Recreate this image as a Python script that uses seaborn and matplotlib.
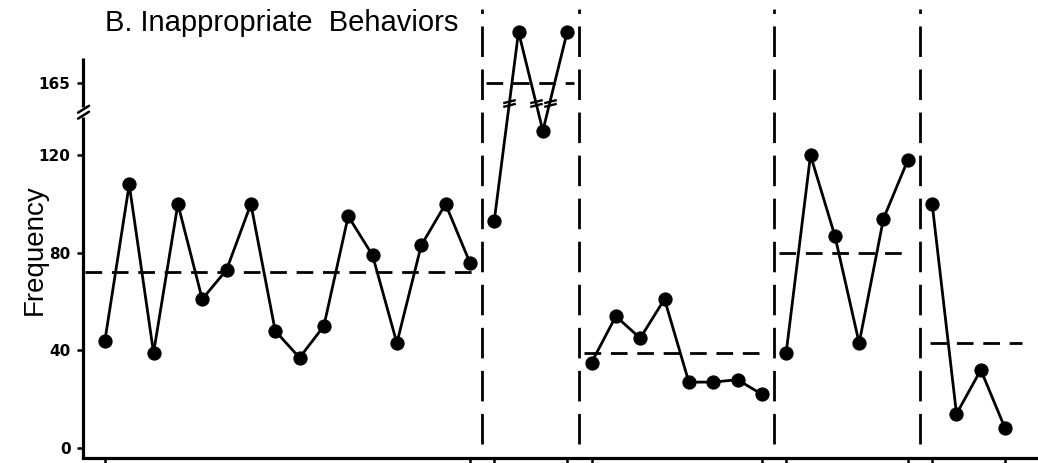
import numpy as np
import pandas as pd
import matplotlib
matplotlib.use("Agg")
import matplotlib.pyplot as plt
from matplotlib.path import Path
import seaborn as sns

# ---------------- data ----------------
phase1 = [44, 108, 39, 100, 61, 73, 100, 48, 37, 50, 95, 79, 43, 83, 100, 76]
phase2 = [93, 208, 130, 208]
phase3 = [35, 54, 45, 61, 27, 27, 28, 22]
phase4 = [39, 120, 87, 43, 94, 118]
phase5 = [100, 14, 32, 8]
phase_means = [72, 165, 39, 80, 43]
ytick_values = [0, 40, 80, 120, 165]
ytick_labels = ["0", "40", "80", "120", "165"]
title_text = "B. Inappropriate  Behaviors"
ylabel_text = "Frequency"

phases = [phase1, phase2, phase3, phase4, phase5]

# build long table
rows = []
s = 1
for p, vals in enumerate(phases):
    for v in vals:
        rows.append({"session": s, "freq": v, "phase": p})
        s += 1
df = pd.DataFrame(rows)

# ---------------- broken y scale ----------------
BREAK = 135.0
SQUEEZE = 0.487


def fwd(y):
    y = np.asarray(y, dtype=float)
    return np.where(y <= BREAK, y, BREAK + (y - BREAK) * SQUEEZE)


def inv(v):
    v = np.asarray(v, dtype=float)
    return np.where(v <= BREAK, v, BREAK + (v - BREAK) / SQUEEZE)


sns.set_theme(style="white")
plt.rcParams["font.family"] = ["Liberation Sans", "DejaVu Sans"]

W, H = 1038, 463
fig = plt.figure(figsize=(W / 100, H / 100), dpi=100)
ax = fig.add_axes([83 / W, 5 / H, 1 - 83 / W, 458 / H])
ax.set_yscale("function", functions=(fwd, inv))
ax.set_xlim(0.1, 39.35)
ax.set_ylim(-4.1, 234.8)

LW = 2.0

# data lines per phase
for p in range(len(phases)):
    sub = df[df["phase"] == p]
    sns.lineplot(data=sub, x="session", y="freq", ax=ax, color="black",
                 marker="o", markersize=9.5, markeredgecolor="black",
                 linewidth=LW, estimator=None, legend=False)

# phase means and boundaries
dash_h = (0, (6.0, 3.5))
dash_v = (0, (11, 4.5))
pad_left = [0.8, 0.35, 0.3, 0.3, 0.1]
pad_right = [0.1, 0.3, 0.15, 0.1, 0.7]
for p in range(len(phases)):
    sub = df[df["phase"] == p]
    x0 = sub["session"].min() - pad_left[p]
    x1 = sub["session"].max() + pad_right[p]
    ax.plot([x0, x1], [phase_means[p], phase_means[p]], color="black",
            lw=LW, ls=dash_h)
    if p < len(phases) - 1:
        ax.axvline(sub["session"].max() + 0.5, ymin=0.03, ymax=0.98,
                   color="black", lw=LW, ls=dash_v)

# break marks on lines crossing the axis break
brk_path = Path([(-1, -0.55), (1, -0.05), (-1, 0.05), (1, 0.55)],
                [Path.MOVETO, Path.LINETO, Path.MOVETO, Path.LINETO])
mark_level = fwd(148.0)
bx, by = [], []
for p in range(len(phases)):
    sub = df[df["phase"] == p].sort_values("session")
    xs = sub["session"].values
    ys = fwd(sub["freq"].values)
    for i in range(len(xs) - 1):
        lo, hi = sorted([ys[i], ys[i + 1]])
        if lo < mark_level < hi:
            t = (mark_level - ys[i]) / (ys[i + 1] - ys[i])
            bx.append(xs[i] + t * (xs[i + 1] - xs[i]))
            by.append(148.0)
ax.plot(bx, by, ls="none", marker=brk_path, markersize=9,
        markeredgewidth=1.7, color="black")

# axes styling
for side in ["top", "right", "left"]:
    ax.spines[side].set_visible(False)
ax.spines["bottom"].set_linewidth(2.3)
ax.spines["bottom"].set_color("black")

# left axis drawn in two pieces with a break
ax.plot([0, 0], [0, 0.745], transform=ax.transAxes, color="black",
        lw=2.3, clip_on=False, solid_capstyle="butt")
ax.plot([0, 0], [0.766, 0.873], transform=ax.transAxes, color="black",
        lw=2.3, clip_on=False, solid_capstyle="butt")
for dy in (0.0, 0.013):
    ax.plot([-0.0052, 0.0063], [0.741 + dy, 0.756 + dy], transform=ax.transAxes,
            color="black", lw=1.8, clip_on=False)

ax.set_yticks(ytick_values)
ax.set_yticklabels(ytick_labels)
ax.yaxis.set_minor_locator(matplotlib.ticker.NullLocator())
ax.tick_params(axis="y", direction="out", length=4, width=1.8, color="black",
               left=True, pad=5, labelsize=11, labelcolor="black")
for lab in ax.get_yticklabels():
    lab.set_fontweight("bold")
    lab.set_family("DejaVu Sans")

phase_ends = []
for p in range(len(phases)):
    sub = df[df["phase"] == p]
    phase_ends += [sub["session"].min(), sub["session"].max()]
ax.set_xticks(phase_ends)
ax.set_xticklabels([])
ax.tick_params(axis="x", direction="out", length=4, width=1.8, color="black",
               bottom=True)
ax.set_xlabel("")
ax.set_ylabel("")
ax.grid(False)

fig.text(105 / W, 1 - 23 / H, title_text, fontsize=21, ha="left",
         va="center", color="black")
fig.text(35 / W, 1 - 250 / H, ylabel_text, fontsize=20, rotation=90,
         ha="center", va="center", color="black")

fig.savefig("out.png", dpi=100)
